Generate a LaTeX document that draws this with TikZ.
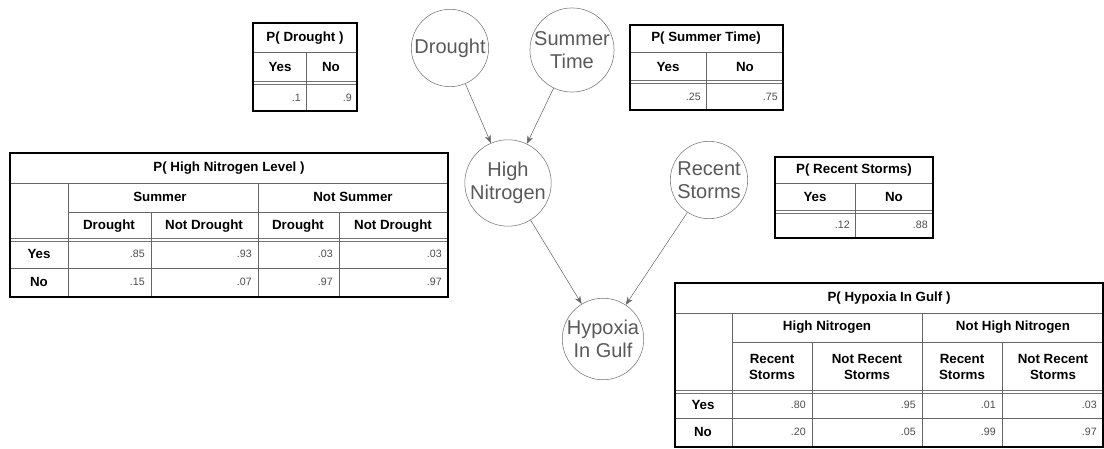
\documentclass[tikz,border=0pt]{standalone}
\usepackage{fontspec}
\setmainfont{Liberation Sans}
\usetikzlibrary{arrows.meta}
\begin{document}
\begin{tikzpicture}[
    x=0.75pt, y=-0.75pt,
    bnode/.style={
        circle,
        draw=black!55,
        minimum size=58pt,
        inner sep=0pt,
        align=center,
        text=black!65,
        font=\fontsize{15}{17.5}\selectfont
    },
    hd/.style={font=\fontsize{10}{12}\bfseries\selectfont, align=center, inner sep=1pt},
    val/.style={anchor=east, font=\fontsize{8}{9}\selectfont, text=black!70, inner sep=0pt},
    tblline/.style={draw=black!60, line width=0.6pt},
    dblline/.style={draw=black!55, line width=0.6pt},
    tblframe/.style={draw=black, line width=1.8pt}
]
\useasboundingbox (0,0) rectangle (1104,449);

% 노드
\node[bnode] (drought) at (450,48) {Drought};
\node[bnode] (summer) at (572,50) {Summer\\Time};
\node[bnode] (nitro) at (508,183) {High\\Nitrogen};
\node[bnode] (storms) at (709,180) {Recent\\Storms};
\node[bnode] (hypoxia) at (603,339) {Hypoxia\\In Gulf};

% 간선
\draw[->, >={Stealth[length=6pt, width=4.5pt]}, black!60] (drought) -- (nitro);
\draw[->, >={Stealth[length=6pt, width=4.5pt]}, black!60] (summer) -- (nitro);
\draw[->, >={Stealth[length=6pt, width=4.5pt]}, black!60] (nitro) -- (hypoxia);
\draw[->, >={Stealth[length=6pt, width=4.5pt]}, black!60] (storms) -- (hypoxia);

% 표: P(Drought)
\draw[tblline] (253,52) -- (357,52);
\draw[dblline] (253,81.5) -- (357,81.5) (253,84.5) -- (357,84.5);
\draw[tblline] (306,52) -- (306,111);
\draw[tblframe] (253,23) rectangle (357,111);
\node[hd] (pd) at (305,38) {P( Drought )};
\node[hd] (pdyes) at (280,67) {Yes};
\node[hd] (pdno) at (331,67) {No};
\node[val] (pdv1) at (301,98) {.1};
\node[val] (pdv2) at (352,98) {.9};

% 표: P(Summer Time)
\draw[tblline] (630,52) -- (783,52);
\draw[dblline] (630,80.5) -- (783,80.5) (630,83.5) -- (783,83.5);
\draw[tblline] (706,52) -- (706,110);
\draw[tblframe] (630,25) rectangle (783,110);
\node[hd] (ps) at (706,38) {P( Summer Time)};
\node[hd] (psyes) at (668,67) {Yes};
\node[hd] (psno) at (745,67) {No};
\node[val] (psv1) at (701,97) {.25};
\node[val] (psv2) at (778,97) {.75};

% 표: P(High Nitrogen Level)
\draw[tblline] (10,183) -- (448,183);
\draw[tblline] (68,212) -- (448,212);
\draw[dblline] (10,238.5) -- (448,238.5) (10,241.5) -- (448,241.5);
\draw[tblline] (10,268) -- (448,268);
\draw[tblline] (68,183) -- (68,297);
\draw[tblline] (151,212) -- (151,297);
\draw[tblline] (258,183) -- (258,297);
\draw[tblline] (339,212) -- (339,297);
\draw[tblframe] (10,153) rectangle (448,297);
\node[hd] (ph) at (229,168) {P( High Nitrogen Level )};
\node[hd] (phs) at (160,197) {Summer};
\node[hd] (phns) at (353,197) {Not Summer};
\node[hd] (phd1) at (109,226) {Drought};
\node[hd] (phnd1) at (204,226) {Not Drought};
\node[hd] (phd2) at (298,226) {Drought};
\node[hd] (phnd2) at (393,226) {Not Drought};
\node[hd] (phyes) at (39,254) {Yes};
\node[hd] (phno) at (39,282) {No};
\node[val] (phy1) at (145,254) {.85};
\node[val] (phy2) at (252,254) {.93};
\node[val] (phy3) at (333,254) {.03};
\node[val] (phy4) at (442,254) {.03};
\node[val] (phn1) at (145,282) {.15};
\node[val] (phn2) at (252,282) {.07};
\node[val] (phn3) at (333,282) {.97};
\node[val] (phn4) at (442,282) {.97};

% 표: P(Recent Storms)
\draw[tblline] (775,183) -- (933,183);
\draw[dblline] (775,210.5) -- (933,210.5) (775,213.5) -- (933,213.5);
\draw[tblline] (855,183) -- (855,238);
\draw[tblframe] (775,157) rectangle (933,238);
\node[hd] (pr) at (854,170) {P( Recent Storms)};
\node[hd] (pryes) at (815,197) {Yes};
\node[hd] (prno) at (894,197) {No};
\node[val] (prv1) at (850,225) {.12};
\node[val] (prv2) at (928,225) {.88};

% 표: P(Hypoxia In Gulf)
\draw[tblline] (675,313) -- (1103,313);
\draw[tblline] (732,342) -- (1103,342);
\draw[dblline] (675,390.5) -- (1103,390.5) (675,393.5) -- (1103,393.5);
\draw[tblline] (675,418) -- (1103,418);
\draw[tblline] (732,313) -- (732,447);
\draw[tblline] (812,342) -- (812,447);
\draw[tblline] (922,313) -- (922,447);
\draw[tblline] (1002,342) -- (1002,447);
\draw[tblframe] (675,283) rectangle (1103,447);
\node[hd] (pg) at (889,298) {P( Hypoxia In Gulf )};
\node[hd] (pghn) at (827,327) {High Nitrogen};
\node[hd] (pgnhn) at (1013,327) {Not High Nitrogen};
\node[hd] (pgr1) at (772,367) {Recent\\Storms};
\node[hd] (pgnr1) at (867,367) {Not Recent\\Storms};
\node[hd] (pgr2) at (962,367) {Recent\\Storms};
\node[hd] (pgnr2) at (1053,367) {Not Recent\\Storms};
\node[hd] (pgyes) at (703,405) {Yes};
\node[hd] (pgno) at (703,432) {No};
\node[val] (pgy1) at (806,405) {.80};
\node[val] (pgy2) at (916,405) {.95};
\node[val] (pgy3) at (996,405) {.01};
\node[val] (pgy4) at (1097,405) {.03};
\node[val] (pgn1) at (806,432) {.20};
\node[val] (pgn2) at (916,432) {.05};
\node[val] (pgn3) at (996,432) {.99};
\node[val] (pgn4) at (1097,432) {.97};

\end{tikzpicture}
\end{document}
